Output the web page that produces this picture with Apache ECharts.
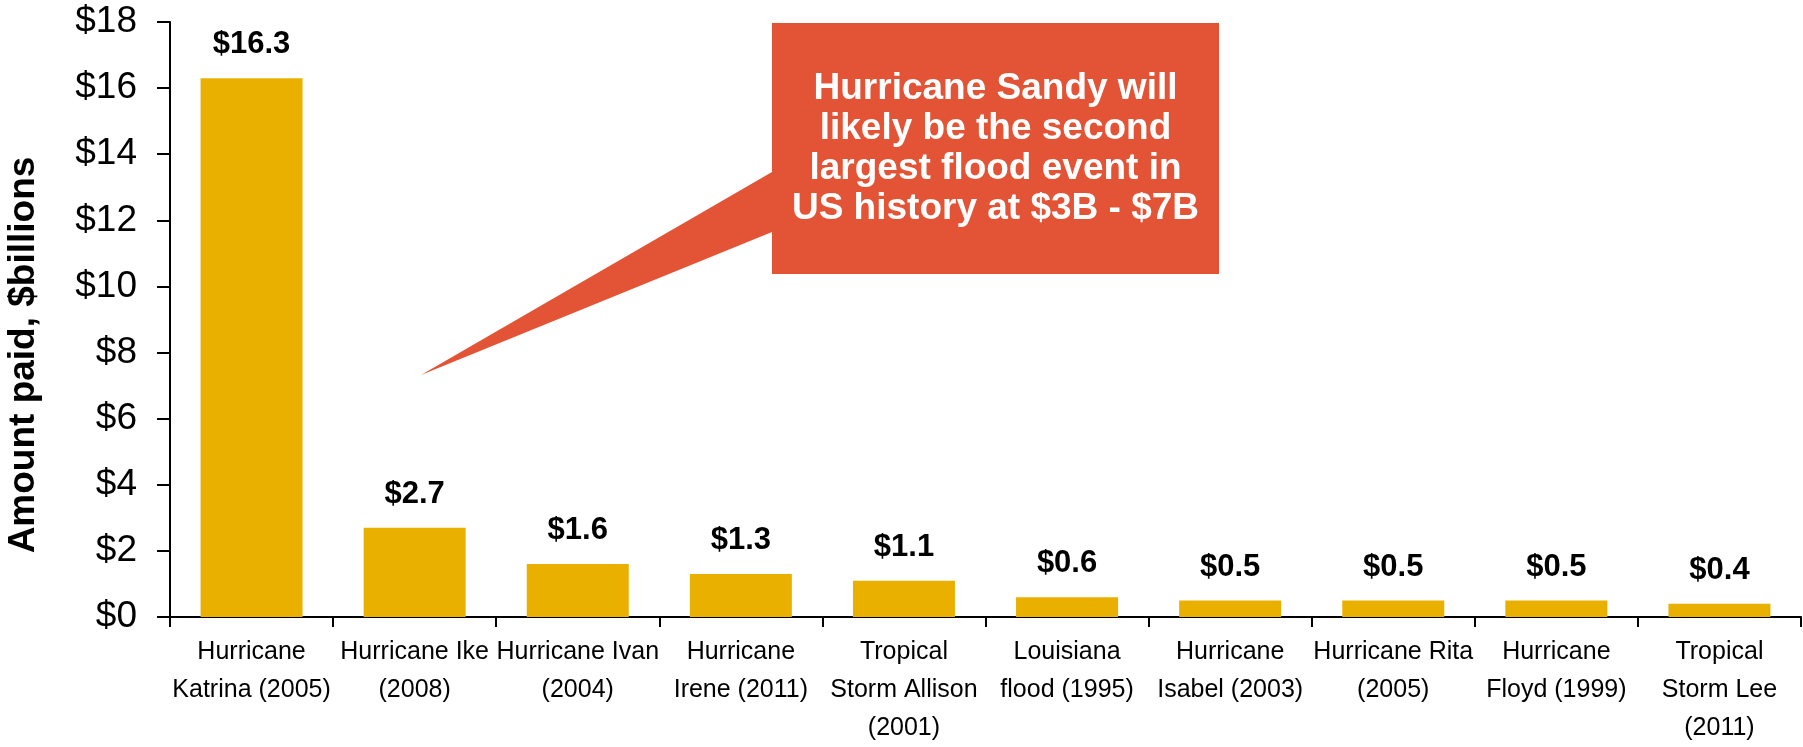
<!DOCTYPE html>
<html>
<head>
<meta charset="utf-8">
<title>Flood insurance payouts by event</title>
<script src="https://cdn.jsdelivr.net/npm/echarts@6/dist/echarts.min.js"></script>
<style>
  html, body { margin: 0; padding: 0; background: #ffffff; }
  #chart { width: 1803px; height: 747px; }
</style>
</head>
<body>
<div id="chart"></div>
<script>
// Flood events and the amount paid on each, in $ billions
const events = [
  'Hurricane\nKatrina (2005)',
  'Hurricane Ike\n(2008)',
  'Hurricane Ivan\n(2004)',
  'Hurricane\nIrene (2011)',
  'Tropical\nStorm Allison\n(2001)',
  'Louisiana\nflood (1995)',
  'Hurricane\nIsabel (2003)',
  'Hurricane Rita\n(2005)',
  'Hurricane\nFloyd (1999)',
  'Tropical\nStorm Lee\n(2011)'
];
const amountPaid = [16.3, 2.7, 1.6, 1.3, 1.1, 0.6, 0.5, 0.5, 0.5, 0.4];

// Value axis range and step
const axisMin = 0;
const axisMax = 18;
const axisStep = 2;

const axisTitle = 'Amount paid, $billions';
const calloutLines = [
  'Hurricane Sandy will',
  'likely be the second',
  'largest flood event in',
  'US history at $3B - $7B'
];

const FONT = '"Liberation Sans", Arial, Helvetica, sans-serif';
const BAR_COLOR = '#E9B000';
const CALLOUT_COLOR = '#E35335';

const chart = echarts.init(document.getElementById('chart'), null, { renderer: 'canvas' });

chart.setOption({
  animation: false,
  backgroundColor: '#ffffff',
  grid: { left: 170, right: 2, top: 22, bottom: 129, containLabel: false },
  xAxis: {
    type: 'category',
    data: events,
    axisLine: { show: true, lineStyle: { color: '#000000', width: 2 } },
    axisTick: { show: true, length: 10, lineStyle: { color: '#000000', width: 2 } },
    axisLabel: {
      interval: 0,
      margin: 16,
      color: '#000000',
      fontFamily: FONT,
      fontSize: 25,
      lineHeight: 38
    },
    splitLine: { show: false }
  },
  yAxis: {
    type: 'value',
    min: axisMin,
    max: axisMax,
    interval: axisStep,
    axisLine: { show: true, lineStyle: { color: '#000000', width: 2 } },
    axisTick: { show: true, length: 13, lineStyle: { color: '#000000', width: 2 } },
    axisLabel: {
      margin: 33,
      color: '#000000',
      fontFamily: FONT,
      fontSize: 37,
      formatter: v => '$' + v
    },
    splitLine: { show: false }
  },
  series: [{
    type: 'bar',
    data: amountPaid,
    barWidth: 102,
    itemStyle: { color: BAR_COLOR },
    label: {
      show: true,
      position: 'top',
      distance: 18,
      color: '#000000',
      fontFamily: FONT,
      fontWeight: 'bold',
      fontSize: 31,
      formatter: p => '$' + p.value.toFixed(1)
    }
  }],
  graphic: [
    {
      // rotated value-axis title
      type: 'text',
      x: 24,
      y: 355,
      rotation: Math.PI / 2,
      style: {
        text: axisTitle,
        fill: '#000000',
        font: 'bold 37px ' + FONT,
        textAlign: 'center',
        textVerticalAlign: 'middle'
      }
    },
    {
      // speech-bubble callout with its pointer
      type: 'polygon',
      shape: {
        points: [
          [772, 23], [1219, 23], [1219, 274], [772, 274],
          [772, 232], [421, 375], [772, 172]
        ]
      },
      style: { fill: CALLOUT_COLOR }
    },
    {
      type: 'text',
      x: 995.5,
      y: 148.5,
      style: {
        text: calloutLines.join('\n'),
        fill: '#ffffff',
        font: 'bold 37px ' + FONT,
        lineHeight: 40,
        textAlign: 'center',
        textVerticalAlign: 'middle'
      }
    }
  ]
});
</script>
</body>
</html>
